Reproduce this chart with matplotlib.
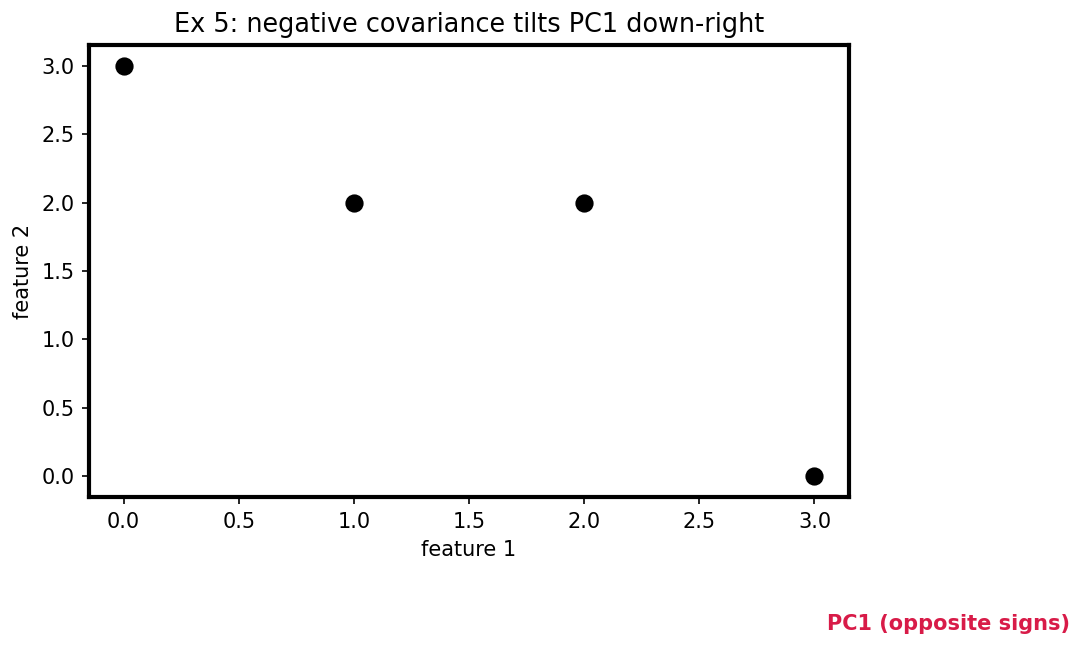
import numpy as np
import matplotlib
matplotlib.use('Agg')
import matplotlib.pyplot as plt

# 数据点
feature1 = [0, 1, 2, 3]
feature2 = [3, 2, 2, 0]
title = 'Ex 5: negative covariance tilts PC1 down-right'
pc1_label = 'PC1 (opposite signs)'

fig = plt.figure(figsize=(1084 / 150, 648 / 150), dpi=150)
ax = fig.add_axes([0.0821, 0.233, 0.7011, 0.6976])

ax.scatter(feature1, feature2, s=60, color='black', zorder=3)
ax.set_xlabel('feature 1')
ax.set_ylabel('feature 2')
ax.set_title(title, fontsize=12.25)
for sp in ax.spines.values():
    sp.set_linewidth(2)

fig.text(1070 / 1084, 1 - 624 / 648, pc1_label, color='#D81B48',
         fontweight='bold', fontsize=10, ha='right', va='center')

fig.savefig('out.png', dpi=150)
